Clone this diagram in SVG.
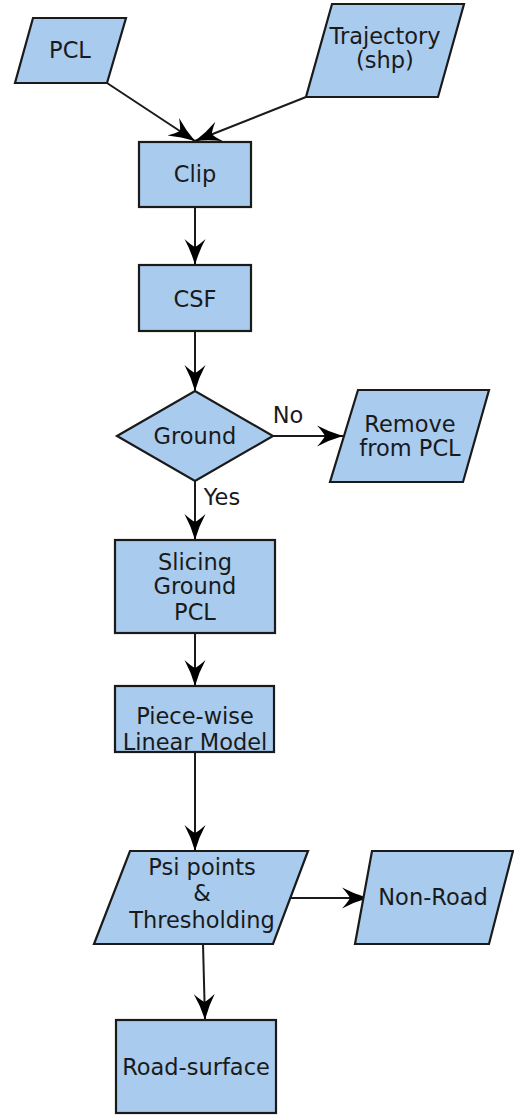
<svg xmlns="http://www.w3.org/2000/svg" width="514" height="1115" viewBox="0 0 514 1115">
  <style>
    .node { fill: #a9cbee; stroke: #1a1a1a; stroke-width: 2.2; stroke-linejoin: miter; }
    .label { font-family: "DejaVu Sans", "Liberation Sans", sans-serif; font-size: 22.5px; fill: #1a1a1a; text-anchor: middle; }
    .edge { fill: none; stroke: #1a1a1a; stroke-width: 2; marker-end: url(#arrow); }
  </style>
  <defs>
    <marker id="arrow" markerUnits="userSpaceOnUse" viewBox="-28 -12 30 24" markerWidth="30" markerHeight="24" refX="0" refY="0" orient="auto" overflow="visible">
      <path d="M0,0 Q-14,-4 -26,-10.5 Q-20,-4 -18,0 Q-20,4 -26,10.5 Q-14,4 0,0 Z" fill="#000"/>
    </marker>
  </defs>
  <rect width="514" height="1115" fill="#fff"/>

  <g id="connectors">
    <line class="edge" x1="107" y1="83" x2="195" y2="141"/>
    <line class="edge" x1="306" y1="97" x2="195" y2="141"/>
    <line class="edge" x1="195" y1="207" x2="195" y2="265"/>
    <line class="edge" x1="195" y1="331" x2="195" y2="391"/>
    <line class="edge" x1="273" y1="436" x2="343" y2="436"/>
    <line class="edge" x1="195" y1="481" x2="195" y2="540"/>
    <line class="edge" x1="195" y1="633" x2="195" y2="686"/>
    <line class="edge" x1="195" y1="752" x2="195" y2="851"/>
    <line class="edge" x1="291" y1="898" x2="368" y2="898"/>
    <line class="edge" x1="203" y1="944" x2="205" y2="1020"/>
    <text class="label" x="288" y="423">No</text>
    <text class="label" x="222" y="505">Yes</text>
  </g>

  <g id="pcl">
    <polygon class="node" points="33,18 126,18 107,83 15,83"/>
    <text class="label" x="70" y="58">PCL</text>
  </g>

  <g id="trajectory">
    <polygon class="node" points="332,4 464,4 438,97 306,97"/>
    <text class="label" x="385" y="44">Trajectory</text>
    <text class="label" x="385" y="68">(shp)</text>
  </g>

  <g id="clip">
    <rect class="node" x="139" y="142" width="112" height="65"/>
    <text class="label" x="195" y="182">Clip</text>
  </g>

  <g id="csf">
    <rect class="node" x="139" y="265" width="112" height="66"/>
    <text class="label" x="195" y="307">CSF</text>
  </g>

  <g id="ground">
    <polygon class="node" points="117,436 195,391 273,436 195,481"/>
    <text class="label" x="195" y="444">Ground</text>
  </g>

  <g id="remove">
    <polygon class="node" points="358,390 489,390 463,482 330,482"/>
    <text class="label" x="410" y="432">Remove</text>
    <text class="label" x="410" y="456">from PCL</text>
  </g>

  <g id="slicing">
    <rect class="node" x="115" y="540" width="160" height="93"/>
    <text class="label" x="195" y="570">Slicing</text>
    <text class="label" x="195" y="594">Ground</text>
    <text class="label" x="195" y="620">PCL</text>
  </g>

  <g id="piecewise">
    <rect class="node" x="115" y="686" width="159" height="66"/>
    <text class="label" x="195" y="724">Piece-wise</text>
    <text class="label" x="195" y="750">Linear Model</text>
  </g>

  <g id="psi">
    <polygon class="node" points="130,851 308,851 273,944 94,944"/>
    <text class="label" x="202" y="875">Psi points</text>
    <text class="label" x="202" y="901">&amp;</text>
    <text class="label" x="202" y="928">Thresholding</text>
  </g>

  <g id="nonroad">
    <polygon class="node" points="372,851 513,851 489,944 355,944"/>
    <text class="label" x="433" y="905">Non-Road</text>
  </g>

  <g id="roadsurface">
    <rect class="node" x="116" y="1020" width="160" height="93"/>
    <text class="label" x="196" y="1075">Road-surface</text>
  </g>
</svg>
